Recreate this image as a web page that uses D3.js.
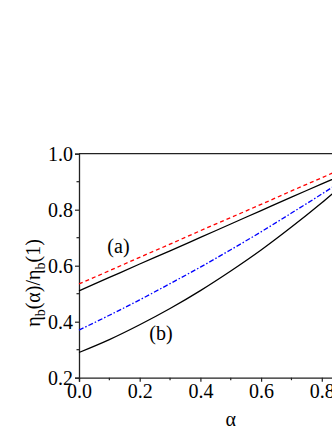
<!DOCTYPE html>
<html>
<head>
<meta charset="utf-8">
<script src="https://cdn.jsdelivr.net/npm/d3@7"></script>
<style>
  body { margin: 0; background: #fff; }
  svg text { font-family: "Liberation Serif", "Times New Roman", Times, "Nimbus Roman", "DejaVu Serif", serif; }
</style>
</head>
<body>
<div id="chart"></div>
<script>
// alpha values and the four curves
var alpha = [0, 0.1, 0.2, 0.3, 0.4, 0.5, 0.6, 0.7, 0.8, 0.9, 1.0];
var redDash = [0.535, 0.582, 0.630, 0.677, 0.725, 0.772, 0.819, 0.867, 0.914, 0.962, 1.0];
var blackA  = [0.510, 0.558, 0.606, 0.653, 0.701, 0.749, 0.797, 0.845, 0.892, 0.940, 0.988];
var blueDot = [0.370, 0.423, 0.478, 0.536, 0.595, 0.657, 0.721, 0.788, 0.856, 0.927, 1.0];
var blackB  = [0.290, 0.336, 0.389, 0.447, 0.511, 0.581, 0.656, 0.738, 0.825, 0.917, 1.0];
var xTicks = [0, 0.2, 0.4, 0.6, 0.8, 1.0];
var yTicks = [0.2, 0.4, 0.6, 0.8, 1.0];

var W = 332, H = 430;
var margin = { top: 153.7, left: 79 },
    width = 303.5,
    height = 224;
var serif = "'Liberation Serif', 'Times New Roman', Times, 'DejaVu Serif', serif";

var svg = d3.select("#chart")
    .append("svg")
    .attr("width", W)
    .attr("height", H);

var g = svg.append("g")
    .attr("transform", "translate(" + margin.left + "," + margin.top + ")");

var x = d3.scaleLinear().domain([0, 1]).range([0, width]);
var y = d3.scaleLinear().domain([0.2, 1.0]).range([height, 0]);

// minor ticks
var xMinor = d3.range(0.1, 1.0, 0.2);
var yMinor = d3.range(0.3, 1.0, 0.2);

g.append("g")
    .selectAll("line")
    .data(xMinor)
    .enter().append("line")
    .attr("x1", function (d) { return x(d); })
    .attr("x2", function (d) { return x(d); })
    .attr("y1", height).attr("y2", height + 2.5)
    .attr("stroke", "#222").attr("stroke-width", 1.2);

g.append("g")
    .selectAll("line")
    .data(yMinor)
    .enter().append("line")
    .attr("y1", function (d) { return y(d); })
    .attr("y2", function (d) { return y(d); })
    .attr("x1", 0).attr("x2", -2.5)
    .attr("stroke", "#222").attr("stroke-width", 1.2);

// X axis
var xAxis = g.append("g")
    .attr("transform", "translate(0," + height + ")")
    .call(d3.axisBottom(x).tickValues(xTicks).tickFormat(d3.format(".1f")).tickSizeOuter(0).tickSize(4).tickPadding(2));

// Y axis
var yAxis = g.append("g")
    .call(d3.axisLeft(y).tickValues(yTicks).tickFormat(d3.format(".1f")).tickSizeOuter(0).tickSize(4).tickPadding(2));

[xAxis, yAxis].forEach(function (a) {
    a.attr("font-family", serif).attr("font-size", 20);
    a.select(".domain").attr("stroke", "#222").attr("stroke-width", 1.3);
    a.selectAll(".tick line").attr("stroke", "#222").attr("stroke-width", 1.2);
    a.selectAll(".tick text").attr("fill", "#000");
});

// top and right frame lines
g.append("line")
    .attr("x1", 0).attr("x2", width)
    .attr("y1", 0).attr("y2", 0)
    .attr("stroke", "#222").attr("stroke-width", 1.3);
g.append("line")
    .attr("x1", width).attr("x2", width)
    .attr("y1", 0).attr("y2", height)
    .attr("stroke", "#222").attr("stroke-width", 1.3);

// curves
var series = [
    { values: redDash, color: "#ff0000", dash: "4,3" },
    { values: blackA, color: "#000", dash: null },
    { values: blueDot, color: "#0000ff", dash: "5,2,1.5,2" },
    { values: blackB, color: "#000", dash: null }
];

var line = d3.line()
    .x(function (d) { return x(d[0]); })
    .y(function (d) { return y(d[1]); })
    .curve(d3.curveMonotoneX);

g.selectAll(".curve")
    .data(series)
    .enter().append("path")
    .attr("class", "curve")
    .attr("d", function (s) { return line(alpha.map(function (a, i) { return [a, s.values[i]]; })); })
    .attr("fill", "none")
    .attr("stroke", function (s) { return s.color; })
    .attr("stroke-width", 1.3)
    .attr("stroke-dasharray", function (s) { return s.dash; });

// curve labels
g.append("text")
    .attr("x", x(0.13)).attr("y", y(0.645))
    .attr("text-anchor", "middle")
    .style("font-size", "20px")
    .text("(a)");
g.append("text")
    .attr("x", x(0.27)).attr("y", y(0.335))
    .attr("text-anchor", "middle")
    .style("font-size", "20px")
    .text("(b)");

// axis labels
svg.append("text")
    .attr("x", margin.left + width / 2)
    .attr("y", 426)
    .attr("text-anchor", "middle")
    .style("font-size", "20px")
    .text("α");

var yl = svg.append("text")
    .attr("transform", "translate(40," + 283 + ") rotate(-90)")
    .attr("text-anchor", "middle")
    .style("font-size", "20px");
yl.append("tspan").text("η");
yl.append("tspan").attr("dy", 5).style("font-size", "14px").text("b");
yl.append("tspan").attr("dy", -5).text("(α)/η");
yl.append("tspan").attr("dy", 5).style("font-size", "14px").text("b");
yl.append("tspan").attr("dy", -5).text("(1)");
</script>
</body>
</html>
